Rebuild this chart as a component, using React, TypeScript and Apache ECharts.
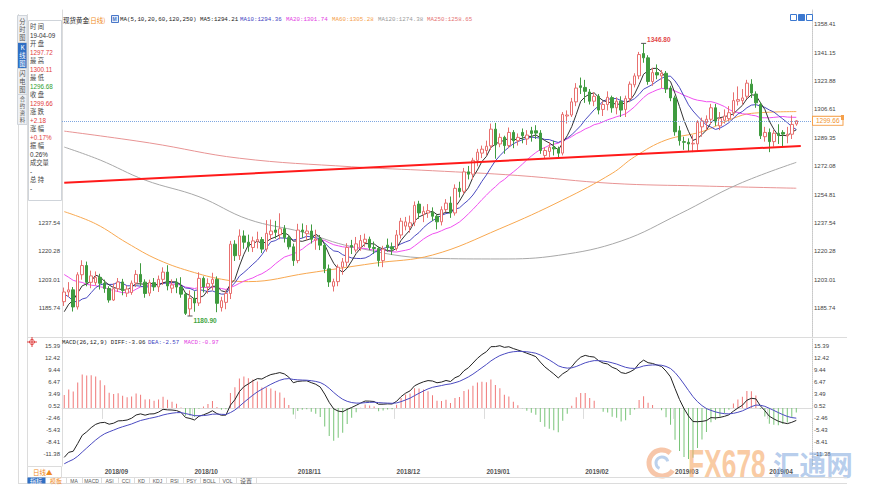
import React, { useEffect, useRef } from 'react';
import * as echarts from 'echarts';

// ---------- data: [date, open, close, low, high] ----------
const aug18 = [
  ['2018-08-21', 1189.6, 1195.5, 1187.0, 1198.2],
  ['2018-08-22', 1195.5, 1196.8, 1192.5, 1201.5],
  ['2018-08-23', 1196.8, 1186.4, 1183.6, 1198.5],
  ['2018-08-24', 1186.4, 1206.0, 1184.8, 1207.5],
  ['2018-08-27', 1206.0, 1211.6, 1203.0, 1214.8],
  ['2018-08-28', 1211.6, 1201.4, 1199.0, 1214.0],
  ['2018-08-29', 1201.4, 1205.3, 1197.8, 1208.5],
  ['2018-08-30', 1201.2, 1204.4, 1199.5, 1208.0],
  ['2018-08-31', 1204.4, 1200.8, 1197.0, 1206.6],
];
const sep18 = [
  ['2018-09-03', 1200.8, 1197.6, 1195.0, 1203.0],
  ['2018-09-04', 1197.6, 1190.6, 1189.0, 1199.0],
  ['2018-09-05', 1190.6, 1197.5, 1190.0, 1200.8],
  ['2018-09-06', 1197.5, 1201.6, 1195.5, 1204.0],
  ['2018-09-07', 1201.6, 1196.4, 1193.5, 1203.5],
  ['2018-09-10', 1194.8, 1197.3, 1192.5, 1199.5],
  ['2018-09-11', 1195.2, 1200.9, 1193.8, 1202.5],
  ['2018-09-12', 1201.0, 1206.2, 1198.5, 1208.8],
  ['2018-09-13', 1206.2, 1201.5, 1199.0, 1213.0],
  ['2018-09-14', 1201.5, 1194.6, 1192.0, 1203.2],
  ['2018-09-17', 1194.8, 1201.2, 1193.0, 1203.0],
  ['2018-09-18', 1201.2, 1198.6, 1196.2, 1204.0],
  ['2018-09-19', 1198.6, 1203.2, 1195.5, 1205.5],
  ['2018-09-20', 1203.2, 1207.6, 1199.8, 1210.5],
  ['2018-09-21', 1207.6, 1199.2, 1196.5, 1211.8],
  ['2018-09-24', 1197.8, 1199.8, 1194.8, 1203.2],
  ['2018-09-25', 1201.5, 1198.5, 1194.8, 1203.8],
  ['2018-09-26', 1198.5, 1194.2, 1192.0, 1204.5],
  ['2018-09-27', 1194.2, 1182.5, 1181.5, 1195.5],
  ['2018-09-28', 1185.2, 1191.6, 1180.9, 1196.5],
];
const oct18 = [
  ['2018-10-01', 1191.6, 1188.8, 1183.5, 1196.0],
  ['2018-10-02', 1188.8, 1203.8, 1187.0, 1207.5],
  ['2018-10-03', 1203.8, 1198.6, 1195.2, 1205.0],
  ['2018-10-04', 1198.6, 1200.6, 1194.5, 1203.8],
  ['2018-10-05', 1200.6, 1203.2, 1196.5, 1207.2],
  ['2018-10-08', 1203.2, 1188.6, 1183.2, 1205.0],
  ['2018-10-09', 1186.0, 1190.2, 1183.6, 1192.6],
  ['2018-10-10', 1189.2, 1194.6, 1185.0, 1196.4],
  ['2018-10-11', 1194.6, 1224.6, 1191.2, 1226.6],
  ['2018-10-12', 1224.6, 1217.6, 1214.4, 1227.0],
  ['2018-10-15', 1217.6, 1229.6, 1215.0, 1233.6],
  ['2018-10-16', 1229.6, 1225.8, 1221.8, 1233.0],
  ['2018-10-17', 1225.8, 1223.4, 1220.0, 1230.4],
  ['2018-10-18', 1222.6, 1226.6, 1219.8, 1229.2],
  ['2018-10-19', 1226.4, 1227.4, 1222.0, 1232.2],
  ['2018-10-22', 1227.4, 1221.6, 1219.2, 1229.0],
  ['2018-10-23', 1221.6, 1231.2, 1220.0, 1239.2],
  ['2018-10-24', 1230.4, 1232.6, 1227.0, 1239.6],
  ['2018-10-25', 1233.2, 1231.8, 1228.0, 1238.8],
  ['2018-10-26', 1230.4, 1234.0, 1227.6, 1243.4],
  ['2018-10-29', 1234.0, 1228.6, 1225.6, 1236.2],
  ['2018-10-30', 1228.6, 1223.0, 1221.4, 1230.0],
  ['2018-10-31', 1223.0, 1214.6, 1211.4, 1225.0],
];
const nov18 = [
  ['2018-11-01', 1214.6, 1233.2, 1213.0, 1237.0],
  ['2018-11-02', 1233.2, 1232.2, 1228.4, 1237.2],
  ['2018-11-05', 1231.0, 1232.6, 1227.0, 1236.2],
  ['2018-11-06', 1232.6, 1227.6, 1225.0, 1236.6],
  ['2018-11-07', 1227.0, 1227.8, 1221.2, 1233.4],
  ['2018-11-08', 1227.8, 1224.0, 1221.0, 1230.2],
  ['2018-11-09', 1224.0, 1209.6, 1207.0, 1225.2],
  ['2018-11-12', 1209.6, 1201.6, 1198.6, 1212.2],
  ['2018-11-13', 1199.0, 1201.8, 1195.8, 1203.6],
  ['2018-11-14', 1201.8, 1210.6, 1199.0, 1212.2],
  ['2018-11-15', 1210.6, 1213.8, 1206.0, 1216.2],
  ['2018-11-16', 1213.6, 1222.6, 1211.0, 1225.2],
  ['2018-11-19', 1223.8, 1222.8, 1218.6, 1227.2],
  ['2018-11-20', 1221.0, 1224.8, 1219.6, 1229.0],
  ['2018-11-21', 1222.6, 1226.8, 1220.6, 1230.2],
  ['2018-11-22', 1225.6, 1227.6, 1223.0, 1231.0],
  ['2018-11-23', 1227.6, 1222.6, 1221.0, 1229.2],
  ['2018-11-26', 1222.6, 1222.0, 1218.6, 1226.2],
  ['2018-11-27', 1222.0, 1214.6, 1211.0, 1223.2],
  ['2018-11-28', 1214.6, 1221.6, 1210.6, 1223.6],
  ['2018-11-29', 1224.0, 1222.6, 1220.0, 1228.0],
  ['2018-11-30', 1223.0, 1221.6, 1218.0, 1225.6],
];
const dec18 = [
  ['2018-12-03', 1222.0, 1230.2, 1220.6, 1233.2],
  ['2018-12-04', 1230.2, 1238.6, 1228.0, 1240.6],
  ['2018-12-05', 1235.6, 1238.2, 1233.0, 1241.2],
  ['2018-12-06', 1235.2, 1237.6, 1231.6, 1242.0],
  ['2018-12-07', 1238.0, 1248.2, 1235.6, 1250.6],
  ['2018-12-10', 1249.0, 1243.6, 1240.0, 1251.0],
  ['2018-12-11', 1242.6, 1244.6, 1238.0, 1247.6],
  ['2018-12-12', 1243.6, 1245.0, 1240.6, 1249.0],
  ['2018-12-13', 1244.0, 1241.6, 1238.6, 1247.0],
  ['2018-12-14', 1241.6, 1238.2, 1233.6, 1242.6],
  ['2018-12-17', 1238.2, 1245.6, 1236.0, 1247.6],
  ['2018-12-18', 1245.6, 1249.6, 1244.0, 1252.0],
  ['2018-12-19', 1249.6, 1243.6, 1240.6, 1253.6],
  ['2018-12-20', 1243.6, 1258.6, 1242.0, 1261.0],
  ['2018-12-21', 1258.6, 1256.6, 1253.0, 1262.6],
  ['2018-12-24', 1256.8, 1268.6, 1255.0, 1271.0],
  ['2018-12-26', 1268.6, 1267.2, 1264.0, 1272.2],
  ['2018-12-27', 1267.2, 1275.6, 1264.0, 1277.2],
  ['2018-12-28', 1275.6, 1280.6, 1272.0, 1282.6],
  ['2018-12-31', 1280.0, 1282.4, 1277.0, 1284.6],
];
const jan19 = [
  ['2019-01-02', 1281.6, 1284.2, 1278.6, 1287.6],
  ['2019-01-03', 1284.4, 1294.6, 1282.0, 1298.0],
  ['2019-01-04', 1294.6, 1285.0, 1276.6, 1298.4],
  ['2019-01-07', 1285.6, 1289.6, 1283.6, 1292.0],
  ['2019-01-08', 1289.6, 1284.6, 1279.6, 1290.6],
  ['2019-01-09', 1284.6, 1292.6, 1283.0, 1295.6],
  ['2019-01-10', 1292.6, 1287.6, 1283.0, 1294.0],
  ['2019-01-11', 1287.6, 1289.6, 1284.6, 1292.0],
  ['2019-01-14', 1292.6, 1290.6, 1286.0, 1295.0],
  ['2019-01-15', 1288.6, 1291.0, 1285.0, 1294.0],
  ['2019-01-16', 1293.6, 1292.0, 1287.0, 1296.0],
  ['2019-01-17', 1293.6, 1292.2, 1288.6, 1297.0],
  ['2019-01-18', 1292.2, 1281.6, 1279.6, 1294.0],
  ['2019-01-21', 1278.6, 1281.6, 1276.6, 1283.6],
  ['2019-01-22', 1281.0, 1283.6, 1277.6, 1286.6],
  ['2019-01-23', 1283.6, 1282.6, 1278.6, 1287.6],
  ['2019-01-24', 1282.6, 1280.0, 1276.6, 1284.0],
  ['2019-01-25', 1280.0, 1303.6, 1278.6, 1305.0],
  ['2019-01-28', 1302.6, 1303.2, 1298.0, 1306.0],
  ['2019-01-29', 1303.2, 1311.2, 1302.0, 1313.6],
  ['2019-01-30', 1311.2, 1319.6, 1308.6, 1322.6],
  ['2019-01-31', 1321.0, 1320.0, 1316.0, 1326.0],
];
const feb19 = [
  ['2019-02-01', 1320.0, 1317.6, 1310.6, 1324.6],
  ['2019-02-04', 1317.2, 1311.6, 1309.6, 1319.0],
  ['2019-02-05', 1311.6, 1314.6, 1308.6, 1317.0],
  ['2019-02-06', 1314.6, 1306.2, 1303.6, 1316.0],
  ['2019-02-07', 1306.6, 1309.6, 1302.6, 1311.6],
  ['2019-02-08', 1309.6, 1314.0, 1306.0, 1317.6],
  ['2019-02-11', 1313.8, 1307.6, 1304.6, 1315.0],
  ['2019-02-12', 1307.6, 1311.6, 1303.6, 1314.0],
  ['2019-02-13', 1311.6, 1306.2, 1302.0, 1314.6],
  ['2019-02-14', 1306.6, 1313.2, 1302.0, 1315.0],
  ['2019-02-15', 1313.2, 1322.0, 1311.0, 1323.6],
  ['2019-02-18', 1321.6, 1327.0, 1320.0, 1328.6],
  ['2019-02-19', 1327.0, 1340.0, 1325.0, 1341.6],
  ['2019-02-20', 1340.6, 1338.0, 1335.0, 1346.8],
  ['2019-02-21', 1338.0, 1323.6, 1321.6, 1339.6],
  ['2019-02-22', 1323.6, 1329.0, 1321.0, 1332.0],
  ['2019-02-25', 1329.0, 1327.6, 1325.0, 1334.0],
  ['2019-02-26', 1327.0, 1328.6, 1319.6, 1330.6],
  ['2019-02-27', 1328.6, 1319.0, 1316.6, 1330.0],
  ['2019-02-28', 1319.6, 1313.6, 1311.6, 1321.0],
];
const mar19 = [
  ['2019-03-01', 1313.6, 1293.0, 1290.6, 1315.0],
  ['2019-03-04', 1293.6, 1287.6, 1284.6, 1296.6],
  ['2019-03-05', 1287.0, 1286.6, 1282.0, 1290.0],
  ['2019-03-06', 1286.6, 1285.6, 1281.0, 1289.0],
  ['2019-03-07', 1285.6, 1286.0, 1280.6, 1291.0],
  ['2019-03-08', 1285.6, 1298.6, 1281.6, 1300.0],
  ['2019-03-11', 1296.0, 1299.6, 1290.0, 1301.6],
  ['2019-03-12', 1298.6, 1300.6, 1293.6, 1303.0],
  ['2019-03-13', 1300.6, 1307.6, 1297.6, 1310.0],
  ['2019-03-14', 1307.6, 1299.0, 1296.6, 1310.0],
  ['2019-03-15', 1296.6, 1301.0, 1294.0, 1305.0],
  ['2019-03-18', 1300.0, 1302.6, 1298.0, 1306.6],
  ['2019-03-19', 1301.0, 1304.6, 1299.6, 1308.6],
  ['2019-03-20', 1304.6, 1312.0, 1302.6, 1317.0],
  ['2019-03-21', 1311.6, 1312.6, 1309.0, 1320.6],
  ['2019-03-22', 1312.0, 1313.6, 1309.6, 1319.0],
  ['2019-03-25', 1314.6, 1322.6, 1313.0, 1324.6],
  ['2019-03-26', 1322.0, 1316.6, 1313.6, 1325.0],
  ['2019-03-27', 1316.0, 1310.6, 1307.6, 1317.6],
  ['2019-03-28', 1309.6, 1290.6, 1288.6, 1311.0],
  ['2019-03-29', 1290.0, 1292.6, 1287.0, 1296.0],
];
const apr19 = [
  ['2019-04-01', 1292.6, 1287.0, 1280.6, 1295.0],
  ['2019-04-02', 1287.0, 1292.1, 1284.0, 1294.0],
  ['2019-04-03', 1292.1, 1290.8, 1285.6, 1297.6],
  ['2019-04-04', 1292.6, 1291.6, 1283.6, 1294.0],
  ['2019-04-05', 1290.6, 1291.5, 1286.0, 1296.0],
  ['2019-04-08', 1291.5, 1297.48, 1288.6, 1303.0],
  ['2019-04-09', 1297.72, 1299.66, 1296.68, 1300.11],
];
// empty slots to the right of the last bar
const futureSlots = ['2019-04-10', '2019-04-11', '2019-04-12'];
// closes before the window (for moving averages)
const priorCloses = [1231, 1223, 1222, 1221, 1224, 1216, 1211, 1214, 1208, 1210, 1214, 1212, 1212, 1193, 1194, 1174, 1174, 1184, 1190];
// MACD state just before the first visible bar
const macdStart = { ema12: 1192.0, ema26: 1205.5, dea: -14.2 };

// long moving averages: [barIndex, value]
const ma60Pts = [[0, 1244.4], [7, 1237.0], [14, 1225.3], [21, 1215.0], [29, 1207.3], [36, 1202.8], [41, 1201.8], [54, 1206.9], [69, 1213.0], [82, 1218.0], [97, 1234.0], [111, 1251.5], [122, 1267.7], [127, 1277.8], [134, 1288.0], [142, 1293.1], [149, 1301.2], [153, 1304.2], [163, 1305.28]];
const ma120Pts = [[0, 1283.7], [8, 1275.8], [18, 1263.6], [30, 1253.5], [41, 1239.7], [53, 1232.0], [64, 1223.1], [82, 1216.0], [97, 1215.6], [110, 1217.8], [124, 1226.5], [137, 1243.0], [150, 1261.0], [163, 1274.38]];
const ma250Pts = [[0, 1293.4], [19, 1286.2], [39, 1276.9], [64, 1271.7], [82, 1269.3], [101, 1266.4], [122, 1261.6], [142, 1260.0], [163, 1258.65]];

// hand-drawn support line: [date, price]
const trendLine = [['2018-08-21', 1262.0], ['2019-04-10', 1284.34]];

// axis ticks
const priceBase = 1185.742;
const priceStep = 17.2672;
const leftPriceLabelMax = 1240; // upper left labels sit under the info panel
const macdBase = -11.38;
const macdStep = 2.974444;

const headerItems = [
  { text: '现货黄金', x: 63, color: '#222', cjk: true },
  { text: '(日线)', x: 88, color: '#f08a24', cjk: true },
  { text: 'MA(5,10,20,60,120,250) MA5:1294.21', x: 120, color: '#222' },
  { text: 'MA10:1294.36', x: 240, color: '#3f3fbf' },
  { text: 'MA20:1301.74', x: 286, color: '#e23be2' },
  { text: 'MA60:1305.28', x: 332, color: '#f5a04a' },
  { text: 'MA120:1274.38', x: 378, color: '#9a9a9a' },
  { text: 'MA250:1258.65', x: 427, color: '#e57373' },
];
const macdHeader = [
  { text: 'MACD(26,12,9) DIFF:-3.06', x: 62, color: '#222' },
  { text: 'DEA:-2.57', x: 148, color: '#3f3fbf' },
  { text: 'MACD:-0.97', x: 184, color: '#e23be2' },
];
const infoRows = [
  ['时 间', '19-04-09', '#333'],
  ['开 盘', '1297.72', '#e23b3b'],
  ['最 高', '1300.11', '#e23b3b'],
  ['最 低', '1296.68', '#2f9e2f'],
  ['收 盘', '1299.66', '#e23b3b'],
  ['涨 跌', '+2.18', '#e23b3b'],
  ['涨 幅', '+0.17%', '#e23b3b'],
  ['振 幅', '0.26%', '#333'],
  ['成交量', '-', '#333'],
  ['总 持', '-', '#333'],
];
const sideTabs = [
  { text: '分时图', y: 15, h: 27, active: false },
  { text: 'K线图', y: 42, h: 26, active: true },
  { text: '闪电图', y: 68, h: 26, active: false },
  { text: '合约资料', y: 94, h: 30, active: false },
];
const indicatorTabs = [
  { text: 'MA', x: 66, w: 16 },
  { text: 'MACD', x: 82, w: 19 },
  { text: 'ASI', x: 101, w: 17 },
  { text: 'CCI', x: 118, w: 16 },
  { text: 'KD', x: 134, w: 15 },
  { text: 'KDJ', x: 149, w: 17 },
  { text: 'RSI', x: 166, w: 17 },
  { text: 'PSY', x: 183, w: 17 },
  { text: 'BOLL', x: 200, w: 19 },
  { text: 'VOL', x: 219, w: 17 },
  { text: '设置', x: 236, w: 20 },
];

const CJK = '"Noto Sans CJK SC", sans-serif';
const MONO = '"Liberation Mono", "DejaVu Sans Mono", monospace';
const SANS = '"Liberation Sans", Arial, sans-serif';

export default function App() {
  const ref = useRef<HTMLDivElement>(null);

  useEffect(() => {
    if (!ref.current) return;
    const chart = echarts.init(ref.current, null, { renderer: 'svg' });

    const rows: any[] = [...aug18, ...sep18, ...oct18, ...nov18, ...dec18, ...jan19, ...feb19, ...mar19, ...apr19];
    const dates = rows.map((r) => r[0] as string);
    const cats = [...dates, ...futureSlots];
    const candleData = rows.map((r) => [r[1], r[2], r[3], r[4]]);
    const closes = rows.map((r) => r[2] as number);
    const all = [...priorCloses, ...closes];

    const ma = (n: number) =>
      closes.map((_, i) => {
        const j = i + priorCloses.length;
        const s = Math.max(0, j - n + 1);
        let sum = 0;
        for (let k = s; k <= j; k++) sum += all[k];
        return +(sum / (j - s + 1)).toFixed(2);
      });

    let e12 = macdStart.ema12, e26 = macdStart.ema26, dea = macdStart.dea;
    const diffArr: number[] = [], deaArr: number[] = [], histArr: number[] = [];
    closes.forEach((c) => {
      e12 += (2 / 13) * (c - e12);
      e26 += (2 / 27) * (c - e26);
      const d = e12 - e26;
      dea += (2 / 10) * (d - dea);
      diffArr.push(+d.toFixed(3));
      deaArr.push(+dea.toFixed(3));
      histArr.push(+(2 * (d - dea)).toFixed(3));
    });

    let hiIdx = 0, loIdx = 0;
    rows.forEach((r, i) => {
      if (r[4] > rows[hiIdx][4]) hiIdx = i;
      if (r[3] < rows[loIdx][3]) loIdx = i;
    });
    const lastClose = closes[closes.length - 1];

    const priceMin = priceBase - priceStep;
    const priceMax = 1367.11;
    const macdMin = macdBase - macdStep;
    const macdMax = 17.28;

    const isMonthStart = (index: number, value: string) =>
      index > 0 && index < dates.length && value.slice(0, 7) !== cats[index - 1].slice(0, 7);

    const priceLabelRight = (v: number) => (v < priceBase - 1 || v > 1360 ? '' : v.toFixed(2));
    const priceLabelLeft = (v: number) => (v < priceBase - 1 || v > leftPriceLabelMax ? '' : v.toFixed(2));
    const macdLabel = (v: number) => (v < macdBase - 1 || v > 16 ? '' : v.toFixed(2));

    const yCommon = {
      type: 'value',
      axisTick: { show: false },
      splitLine: { show: false },
    };
    const labelStyle = { fontSize: 6, color: '#444', fontFamily: SANS, margin: 2, showMinLabel: false, showMaxLabel: false };

    const lineSeries = (name: string, data: any, color: string, smooth: any = false) => ({
      name,
      type: 'line',
      xAxisIndex: 0,
      yAxisIndex: 0,
      data,
      symbol: 'none',
      smooth,
      silent: true,
      lineStyle: { color, width: 1 },
      z: 3,
    });

    const g: any[] = [];
    const T = (text: string, x: number, y: number, fill: string, fontSize: number, fontFamily: string, extra: any = {}) =>
      g.push({ type: 'text', x, y, z: 100, silent: true, style: { text, fill, fontSize, fontFamily, verticalAlign: 'middle', lineHeight: fontSize + 0.5, ...extra } });
    const L = (x1: number, y1: number, x2: number, y2: number, stroke = '#dcdcdc') =>
      g.push({ type: 'line', z: 90, silent: true, shape: { x1, y1, x2, y2 }, style: { stroke, lineWidth: 1 } });

    // frame lines
    L(18.5, 14, 18.5, 483.5);
    L(27.5, 14, 27.5, 483.5);
    L(27, 337.5, 847, 337.5);
    L(27, 477.5, 847, 477.5);
    L(18, 483.5, 847, 483.5);

    // header
    headerItems.forEach((h) => T(h.text, h.x, 19.5, h.color, h.cjk ? 6.5 : 5.8, h.cjk ? CJK : MONO));
    g.push({ type: 'rect', z: 100, silent: true, shape: { x: 111.5, y: 15.5, width: 7, height: 7 }, style: { fill: '#e4ecfb', stroke: '#4a78c8', lineWidth: 1 } });
    T('M', 112.5, 19.3, '#4a78c8', 5, SANS, { fontWeight: 'bold' });
    // top-right icons
    [790, 798, 806].forEach((x, i) =>
      g.push({ type: 'rect', z: 100, silent: true, shape: { x: x + 0.5, y: 14.5, width: 6, height: 6 }, style: { fill: i === 1 ? '#3b78d0' : '#fff', stroke: '#3b78d0', lineWidth: 1 } }),
    );

    // MACD header + icon
    macdHeader.forEach((h) => T(h.text, h.x, 342, h.color, 5.8, MONO));
    g.push({ type: 'circle', z: 100, silent: true, shape: { cx: 32, cy: 342, r: 2.5 }, style: { fill: 'none', stroke: '#e04040', lineWidth: 1 } });
    L(27, 342, 37, 342, '#e04040');
    L(32, 337, 32, 347, '#e04040');

    // side tabs
    sideTabs.forEach((t) => {
      g.push({ type: 'rect', z: 95, silent: true, shape: { x: 17.5, y: t.y + 0.5, width: 9.5, height: t.h }, style: { fill: t.active ? '#2f6fc4' : '#eef0f3', stroke: '#cfd4da', lineWidth: 1 } });
      const four = t.text.length > 3;
      T(t.text.split('').join('\n'), 22.5, t.y + t.h / 2 + 0.5, t.active ? '#fff' : '#555', four ? 5.4 : 6.3, CJK, { align: 'center', lineHeight: four ? 7 : 8 });
    });

    // info panel
    g.push({ type: 'rect', z: 95, silent: true, shape: { x: 28.5, y: 20.5, width: 33, height: 180 }, style: { fill: '#fff', stroke: '#cfd4da', lineWidth: 1 } });
    infoRows.forEach((r, k) => {
      const y = 26.5 + 17.05 * k;
      T(r[0], 30, y, '#444', 6.3, CJK, { lineHeight: 7.5 });
      T(r[1], 30, y + 8.6, r[2], 6.3, SANS, { lineHeight: 7.5 });
    });

    // bottom-left boxes and indicator tabs
    g.push({ type: 'rect', z: 95, silent: true, shape: { x: 27.5, y: 466.5, width: 34, height: 11 }, style: { fill: '#fff', stroke: '#dcdcdc', lineWidth: 1 } });
    T('日线▲', 33, 471.5, '#f08a24', 6.5, CJK);
    g.push({ type: 'rect', z: 95, silent: true, shape: { x: 27.5, y: 477.5, width: 18, height: 6 }, style: { fill: '#2f6fc4' } });
    T('指标', 30, 480.5, '#fff', 6, CJK);
    T('模板', 50, 480.5, '#f08a24', 6, CJK);
    indicatorTabs.forEach((t) => {
      L(t.x + 0.5, 477.5, t.x + 0.5, 483.5);
      T(t.text, t.x + t.w / 2, 480.7, '#555', t.text === '设置' ? 6 : 5, t.text === '设置' ? CJK : SANS, { align: 'center' });
    });
    L(256.5, 477.5, 256.5, 483.5);

    // current price marker
    g.push({ type: 'rect', z: 100, silent: true, shape: { x: 841, y: 115, width: 3, height: 5 }, style: { fill: '#f5a04a' } });

    // watermark
    g.push({ type: 'arc', z: 80, silent: true, shape: { cx: 662, cy: 463, r: 13, startAngle: 0.6, endAngle: 5.4 }, style: { stroke: '#f2a070', lineWidth: 5, fill: 'none', opacity: 0.6 } });
    g.push({ type: 'arc', z: 80, silent: true, shape: { cx: 662, cy: 463, r: 6, startAngle: 2.0, endAngle: 6.0 }, style: { stroke: '#8fb2e0', lineWidth: 3, fill: 'none', opacity: 0.6 } });
    g.push({ type: 'text', z: 80, silent: true, x: 688, y: 464, scaleX: 0.66, style: { text: 'FX678', fill: '#f5a866', opacity: 0.6, fontSize: 40, fontWeight: 'bold', fontFamily: SANS, verticalAlign: 'middle' } });
    g.push({ type: 'text', z: 80, silent: true, x: 773, y: 464, scaleX: 0.95, style: { text: '汇通网', fill: '#7aa3dd', opacity: 0.55, fontSize: 28, fontWeight: 'bold', fontFamily: CJK, verticalAlign: 'middle' } });

    const option: any = {
      animation: false,
      backgroundColor: '#ffffff',
      grid: [
        { left: 62, width: 750, top: 10, height: 326.4 },
        { left: 62, width: 750, top: 338, height: 128 },
      ],
      xAxis: [
        { type: 'category', gridIndex: 0, data: cats, boundaryGap: true, axisLine: { show: false }, axisTick: { show: false }, axisLabel: { show: false }, splitLine: { show: false } },
        {
          type: 'category', gridIndex: 1, data: cats, boundaryGap: true,
          axisLine: { show: true, lineStyle: { color: '#dcdcdc' } },
          axisTick: { show: true, interval: isMonthStart, length: 11, lineStyle: { color: '#dcdcdc' } },
          axisLabel: { interval: isMonthStart, formatter: (v: string) => v.slice(0, 7).replace('-', '/'), align: 'left', margin: 1.5, fontSize: 6.5, fontWeight: 'bold', color: '#555', fontFamily: SANS },
          splitLine: { show: false },
        },
      ],
      yAxis: [
        { ...yCommon, gridIndex: 0, position: 'left', min: priceMin, max: priceMax, interval: priceStep, axisLine: { show: true, lineStyle: { color: '#dcdcdc' } }, axisLabel: { ...labelStyle, formatter: priceLabelLeft } },
        { ...yCommon, gridIndex: 0, position: 'right', min: priceMin, max: priceMax, interval: priceStep, axisLine: { show: true, lineStyle: { color: '#c8c8c8', type: 'dotted' } }, axisLabel: { ...labelStyle, formatter: priceLabelRight } },
        { ...yCommon, gridIndex: 1, position: 'left', min: macdMin, max: macdMax, interval: macdStep, axisLine: { show: true, lineStyle: { color: '#dcdcdc' } }, axisLabel: { ...labelStyle, formatter: macdLabel } },
        { ...yCommon, gridIndex: 1, position: 'right', min: macdMin, max: macdMax, interval: macdStep, axisLine: { show: true, lineStyle: { color: '#c8c8c8', type: 'dotted' } }, axisLabel: { ...labelStyle, formatter: macdLabel } },
      ],
      series: [
        lineSeries('MA250', ma250Pts, '#e89494', 0.4),
        lineSeries('MA120', ma120Pts, '#a8a8a8', 0.4),
        lineSeries('MA60', ma60Pts, '#f8a850', 0.4),
        {
          name: 'K',
          type: 'candlestick',
          xAxisIndex: 0,
          yAxisIndex: 0,
          data: candleData,
          barWidth: 3,
          silent: true,
          z: 4,
          itemStyle: { color: '#ffffff', color0: '#3f9b3f', borderColor: '#e8706f', borderColor0: '#3f9b3f', borderWidth: 1 },
          markLine: {
            silent: true,
            symbol: ['none', 'none'],
            data: [
              [
                { coord: trendLine[0], lineStyle: { color: '#ff1a1a', width: 2, type: 'solid' }, label: { show: false } },
                { coord: trendLine[1] },
              ],
              {
                yAxis: lastClose,
                lineStyle: { color: '#7ea6e0', width: 1, type: 'dotted' },
                label: { show: true, position: 'end', distance: 1, formatter: lastClose.toFixed(2), color: '#f0932e', fontSize: 6.5, fontFamily: SANS, backgroundColor: '#fff', borderColor: '#f5a04a', borderWidth: 1, padding: [1, 3, 0, 3] },
              },
            ],
          },
          markPoint: {
            silent: true,
            symbol: 'rect',
            symbolSize: [5, 1],
            itemStyle: { color: '#555' },
            data: [
              { coord: [dates[hiIdx], rows[hiIdx][4]], value: rows[hiIdx][4].toFixed(2), label: { show: true, position: 'right', distance: 1, offset: [0, -4], formatter: '{c}', color: '#e24a4a', fontSize: 6.5, fontWeight: 'bold', fontFamily: SANS } },
              { coord: [dates[loIdx], rows[loIdx][3]], value: rows[loIdx][3].toFixed(2), label: { show: true, position: 'right', distance: 1, offset: [0, 4.5], formatter: '{c}', color: '#3fa53f', fontSize: 6.5, fontWeight: 'bold', fontFamily: SANS } },
            ],
          },
        },
        lineSeries('MA20', ma(20), '#f050f0'),
        lineSeries('MA10', ma(10), '#4a4ac0'),
        lineSeries('MA5', ma(5), '#333333'),
        {
          name: 'MACD',
          type: 'bar',
          xAxisIndex: 1,
          yAxisIndex: 2,
          data: histArr,
          barWidth: 1,
          silent: true,
          itemStyle: { color: (p: any) => (p.value >= 0 ? '#f07878' : '#78c478') },
        },
        { name: 'DIFF', type: 'line', xAxisIndex: 1, yAxisIndex: 2, data: diffArr, symbol: 'none', silent: true, lineStyle: { color: '#222', width: 1 } },
        { name: 'DEA', type: 'line', xAxisIndex: 1, yAxisIndex: 2, data: deaArr, symbol: 'none', silent: true, lineStyle: { color: '#4a4ac0', width: 1 } },
      ],
      graphic: { elements: g },
    };

    chart.setOption(option);
    return () => chart.dispose();
  }, []);

  return <div ref={ref} style={{ position: 'fixed', left: 0, top: 0, width: 871, height: 499, background: '#fff' }} />;
}
